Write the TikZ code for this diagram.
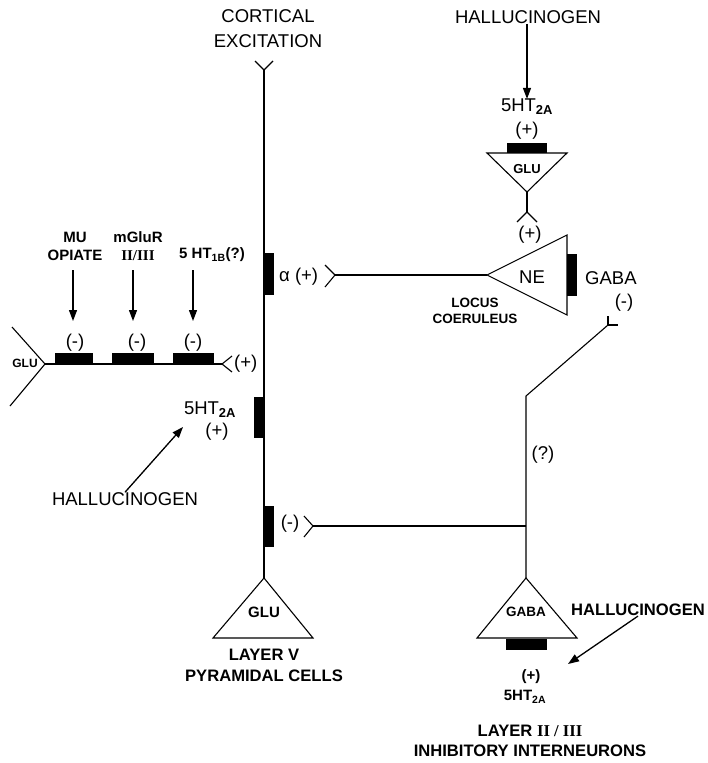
\documentclass[tikz,border=0pt]{standalone}
\usepackage{fontspec}
\setmainfont{Liberation Sans}
\newfontfamily\romanfont{Liberation Serif}
\usepackage{tikz}
\usetikzlibrary{arrows.meta,positioning,calc}

\tikzset{
  txt/.style={font=\fontsize{18.5}{25}\selectfont,inner sep=0pt,align=center},
  tag/.style={font=\bfseries\fontsize{15}{17}\selectfont,inner sep=0pt,align=center},
  caption/.style={font=\bfseries\fontsize{16.6}{21}\selectfont,inner sep=0pt,align=center},
  site/.style={fill=black},
  axon/.style={line width=1.1pt},
  drug/.style={-{Triangle[length=11pt,width=8pt]},line width=1.3pt}
}

\begin{document}
\begin{tikzpicture}[x=1pt,y=-1pt]
  \useasboundingbox (0,0) rectangle (707,763);

  % layer V pyramidal cell
  \coordinate (pyrTop) at (264,70);
  \coordinate (pyrApex) at (264,578);
  \node[txt] (cortical) at (268,29) {CORTICAL\\EXCITATION};
  \draw[axon] (pyrTop) -- (pyrApex);
  \draw[axon] (255,61) -- (pyrTop) -- (273,61);
  \draw[axon] (pyrApex) -- (213,638) -- (313,638) -- cycle;
  \node[tag] (pyrGlu) at (264,612) {GLU};
  \node[caption] (pyrName) at (264,665) {LAYER V\\PYRAMIDAL CELLS};

  \fill[site] (264,253) rectangle (274,295);
  \node[txt,anchor=west] (alpha) at (279,277) {α (+)};
  \fill[site] (254,397) rectangle (264,438);
  \node[txt] (pyrHT) at (210,410) {5HT\textsubscript{\bfseries 2A}};
  \node[txt] (pyrPlus) at (217,432) {(+)};
  \fill[site] (264,506) rectangle (274,547);
  \node[txt] (pyrMinus) at (290,524) {(-)};

  % thalamic glutamate input with presynaptic receptors
  \coordinate (gluRoot) at (45,364);
  \coordinate (gluEnd) at (222,364);
  \draw[axon] (12,327) -- (gluRoot) -- (10,406);
  \draw[axon] (gluRoot) -- (gluEnd);
  \draw[axon] (232,356) -- (gluEnd) -- (232,372);
  \node[tag,font=\bfseries\fontsize{12}{14}\selectfont] (gluIn) at (25,363) {GLU};
  \node[txt,anchor=west] (gluPlus) at (234,364) {(+)};
  \foreach \x/\a/\b/\name in {75/55/93/mu,137/112/154/mglu,193/173/214/htb}{
    \fill[site] (\a,353) rectangle (\b,364);
    \node[txt] (\name Minus) at (\x,343) {(-)};
  }
  \node[tag,font=\bfseries\fontsize{15}{18}\selectfont] (mu) at (75,246) {MU\\OPIATE};
  \node[tag,font=\bfseries\fontsize{15}{18}\selectfont] (mglu) at (138,246) {mGluR\\{\romanfont II/III}};
  \node[tag,font=\bfseries\fontsize{15}{18}\selectfont] (htb) at (212,255) {5 HT\textsubscript{1B}(?)};
  \draw[drug] (73,270) -- (73,321);
  \draw[drug] (133,270) -- (133,321);
  \draw[drug] (193,270) -- (193,321);

  % locus coeruleus
  \coordinate (neTip) at (487,275);
  \coordinate (lcEnd) at (335,275);
  \draw[axon] (neTip) -- (567,235) -- (567,315) -- cycle;
  \draw[axon] (neTip) -- (lcEnd);
  \draw[axon] (325,265) -- (lcEnd) -- (325,287);
  \node[txt] (ne) at (532,277) {NE};
  \fill[site] (567,254) rectangle (577,296);
  \node[txt,anchor=west] (neGaba) at (585,278) {GABA};
  \node[txt] (neMinus) at (624,303) {(-)};
  \node[tag,font=\bfseries\fontsize{13.5}{16}\selectfont] (lc) at (475,311) {LOCUS\\COERULEUS};

  % glutamate input to locus coeruleus
  \coordinate (lcGluApex) at (527,192);
  \coordinate (lcGluFork) at (527,212);
  \draw[axon] (487,153) -- (567,153) -- (lcGluApex) -- cycle;
  \fill[site] (507,143) rectangle (547,153);
  \node[tag,font=\bfseries\fontsize{13}{15}\selectfont] (lcGlu) at (527,169) {GLU};
  \node[txt] (lcGluPlus) at (527,131) {(+)};
  \node[txt] (lcHT) at (527,107) {5HT\textsubscript{\bfseries 2A}};
  \draw[axon] (lcGluApex) -- (lcGluFork);
  \draw[axon] (517,222) -- (lcGluFork) -- (537,222);
  \node[txt] (nePlus) at (530,235) {(+)};

  % layer II/III interneuron
  \coordinate (ibApex) at (526,578);
  \coordinate (ibBend) at (526,396);
  \coordinate (ibJoin) at (526,526);
  \coordinate (ibFork) at (608,325);
  \coordinate (pyrSyn) at (313,526);
  \draw[axon] (ibApex) -- (ibBend) -- (ibFork);
  \draw[axon] (608,316) -- (ibFork) -- (618,325);
  \draw[axon] (pyrSyn) -- (ibJoin);
  \draw[axon] (304,516) -- (pyrSyn) -- (304,537);
  \node[txt] (ibQ) at (543,455) {(?)};
  \draw[axon] (ibApex) -- (477,638) -- (577,638) -- cycle;
  \node[tag,font=\bfseries\fontsize{13.5}{15}\selectfont] (ibGaba) at (526,612) {GABA};
  \fill[site] (506,639) rectangle (547,650);
  \node[tag] (ibPlus) at (531,677) {(+)};
  \node[tag] (ibHT) at (525,697) {5HT\textsubscript{2A}};
  \node[caption,font=\bfseries\fontsize{16.6}{20}\selectfont] (ibName) at (530,741) {LAYER {\romanfont II / III}\\INHIBITORY INTERNEURONS};

  % hallucinogens
  \node[txt] (halTop) at (528,17) {HALLUCINOGEN};
  \node[txt] (halLeft) at (125,499) {HALLUCINOGEN};
  \node[caption] (halRight) at (638,610) {HALLUCINOGEN};
  \draw[drug] (halTop.south -| lcHT) -- (lcHT.north);
  \draw[drug] (halLeft.north) -- (183,427);
  \draw[drug] (halRight.south) -- (568,664);
\end{tikzpicture}
\end{document}
